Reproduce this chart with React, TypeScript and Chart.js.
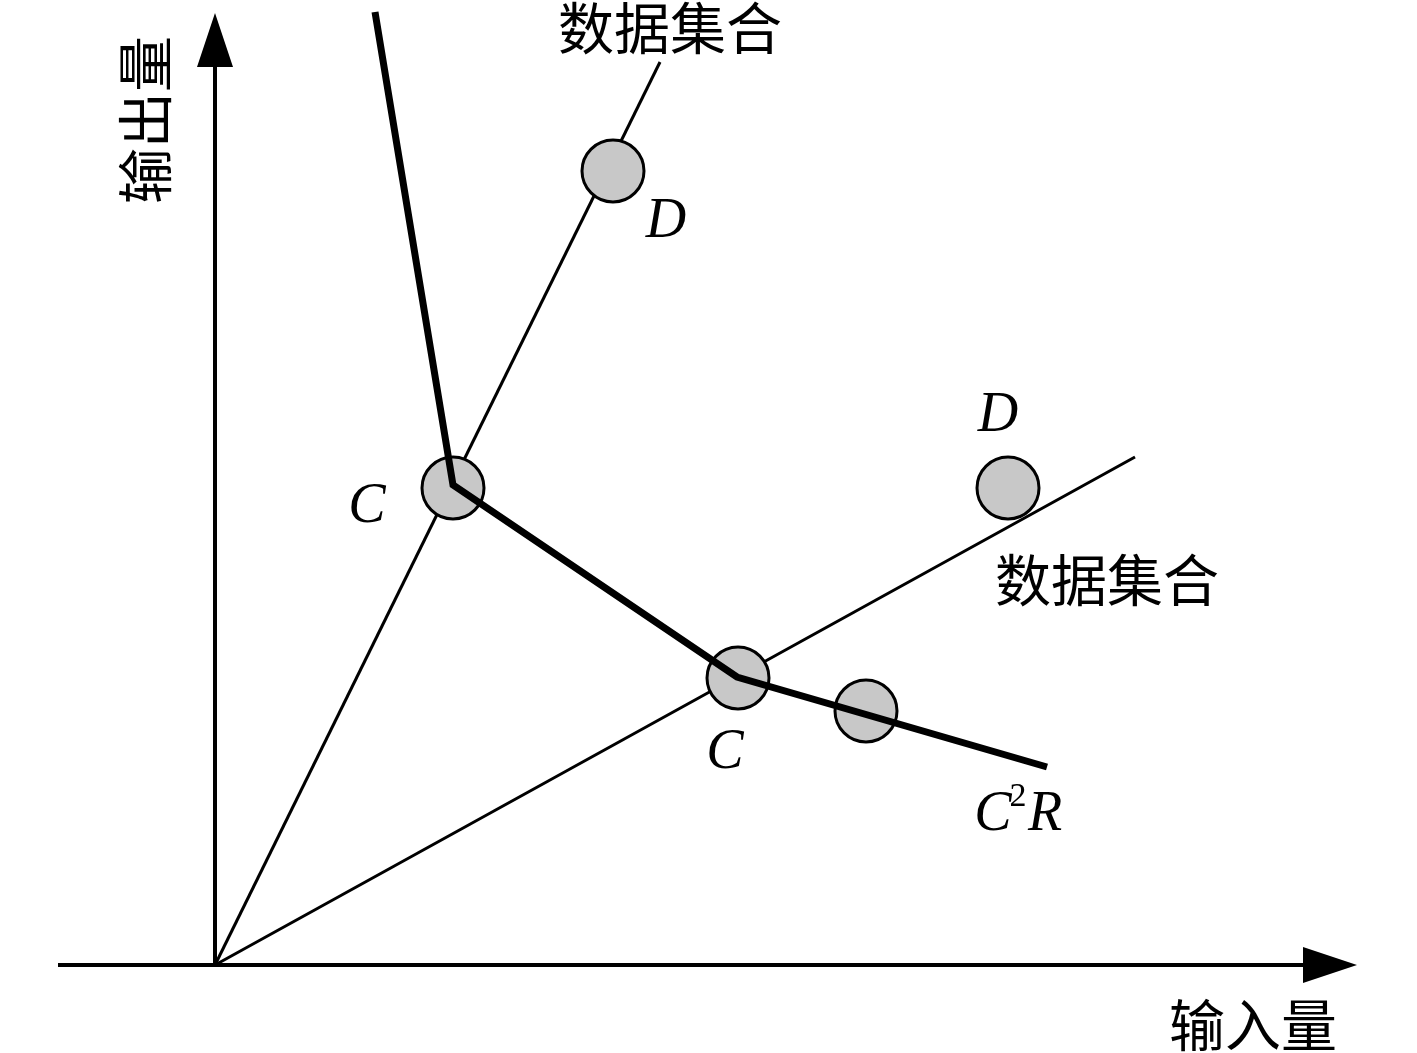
import React, { useEffect, useRef } from "react";
import { Chart, registerables } from "chart.js";

Chart.register(...registerables);

// Diagram values (origin of the axes at 0,0; y grows upward)
const rayHigh = [
  { x: 0, y: 0 },
  { x: 445, y: 903 },
];
const rayLow = [
  { x: 0, y: 0 },
  { x: 920, y: 508 },
];
const frontier = [
  { x: 160, y: 953 },
  { x: 238, y: 480 },
  { x: 522, y: 288 },
  { x: 832, y: 198 },
];
const units = [
  { x: 238, y: 477 },
  { x: 398, y: 794 },
  { x: 523, y: 287 },
  { x: 651, y: 254 },
  { x: 793, y: 477 },
];
const xAxisRange = [-157, 1142];
const yAxisRange = [0, 952];
const xView = [-215, 1202];
const yView = [-88, 965];

const cjkLabels = [
  { text: "数据集合", x: 455, y: 937 },
  { text: "数据集合", x: 892, y: 385 },
  { text: "输入量", x: 1038, y: -60 },
];
const yTitle = { text: "输出量", x: -70, y: 845 };
const italicLabels = [
  { text: "D", x: 451, y: 743 },
  { text: "D", x: 783, y: 549 },
  { text: "C", x: 152, y: 458 },
  { text: "C", x: 510, y: 212 },
  { text: "C", x: 778, y: 150 },
  { text: "R", x: 830, y: 150 },
];
const superscripts = [{ text: "2", x: 803, y: 168 }];

const CJK = '"Noto Sans CJK SC", "Noto Sans", sans-serif';
const SERIF = '"Liberation Serif", "DejaVu Serif", serif';

const diagramPlugin = {
  id: "diagram",
  beforeDatasetsDraw(chart: any) {
    const { ctx, scales } = chart;
    const xs = scales.x;
    const ys = scales.y;
    const px = (v: number) => xs.getPixelForValue(v);
    const py = (v: number) => ys.getPixelForValue(v);
    ctx.save();
    ctx.strokeStyle = "#000";
    ctx.fillStyle = "#000";
    ctx.lineWidth = 4;
    const ox = px(0);
    const oy = py(0);
    const xEnd = px(xAxisRange[1]);
    ctx.beginPath();
    ctx.moveTo(px(xAxisRange[0]), oy);
    ctx.lineTo(xEnd - 40, oy);
    ctx.stroke();
    ctx.beginPath();
    ctx.moveTo(xEnd, oy);
    ctx.lineTo(xEnd - 54, oy - 18);
    ctx.lineTo(xEnd - 54, oy + 18);
    ctx.closePath();
    ctx.fill();
    const yEnd = py(yAxisRange[1]);
    ctx.beginPath();
    ctx.moveTo(ox, py(yAxisRange[0]) + 2);
    ctx.lineTo(ox, yEnd + 40);
    ctx.stroke();
    ctx.beginPath();
    ctx.moveTo(ox, yEnd);
    ctx.lineTo(ox - 18, yEnd + 54);
    ctx.lineTo(ox + 18, yEnd + 54);
    ctx.closePath();
    ctx.fill();
    ctx.restore();
  },
  afterDatasetsDraw(chart: any) {
    const { ctx, scales } = chart;
    const px = (v: number) => scales.x.getPixelForValue(v);
    const py = (v: number) => scales.y.getPixelForValue(v);
    ctx.save();
    ctx.fillStyle = "#000";
    ctx.textAlign = "center";
    ctx.textBaseline = "middle";
    ctx.font = `56px ${CJK}`;
    for (const l of cjkLabels) ctx.fillText(l.text, px(l.x), py(l.y));
    ctx.save();
    ctx.translate(px(yTitle.x), py(yTitle.y));
    ctx.rotate(-Math.PI / 2);
    ctx.fillText(yTitle.text, 0, 0);
    ctx.restore();
    ctx.font = `italic 56px ${SERIF}`;
    for (const l of italicLabels) ctx.fillText(l.text, px(l.x), py(l.y));
    ctx.font = `34px ${SERIF}`;
    for (const l of superscripts) ctx.fillText(l.text, px(l.x), py(l.y));
    ctx.restore();
  },
};

export default function App() {
  const ref = useRef<HTMLCanvasElement | null>(null);
  useEffect(() => {
    document.body.style.margin = "0";
    const chart = new Chart(ref.current as HTMLCanvasElement, {
      type: "scatter",
      data: {
        datasets: [
          {
            data: frontier,
            showLine: true,
            borderColor: "#000",
            borderWidth: 7,
            pointRadius: 0,
            borderJoinStyle: "miter",
          },
          {
            data: units,
            showLine: false,
            pointRadius: 31,
            pointBackgroundColor: "#c8c8c8",
            pointBorderColor: "#000",
            pointBorderWidth: 3,
          },
          {
            data: rayHigh,
            showLine: true,
            borderColor: "#000",
            borderWidth: 3,
            pointRadius: 0,
          },
          {
            data: rayLow,
            showLine: true,
            borderColor: "#000",
            borderWidth: 3,
            pointRadius: 0,
          },
        ],
      } as any,
      options: {
        animation: false,
        responsive: true,
        maintainAspectRatio: false,
        layout: { padding: 0, autoPadding: false },
        plugins: { legend: { display: false }, tooltip: { enabled: false } },
        scales: {
          x: { type: "linear", min: xView[0], max: xView[1], display: false },
          y: { type: "linear", min: yView[0], max: yView[1], display: false },
        },
      } as any,
      plugins: [diagramPlugin],
    });
    return () => chart.destroy();
  }, []);
  return (
    <div style={{ position: "absolute", left: 0, top: 0, width: 1417, height: 1053, background: "#fff" }}>
      <canvas ref={ref} />
    </div>
  );
}
